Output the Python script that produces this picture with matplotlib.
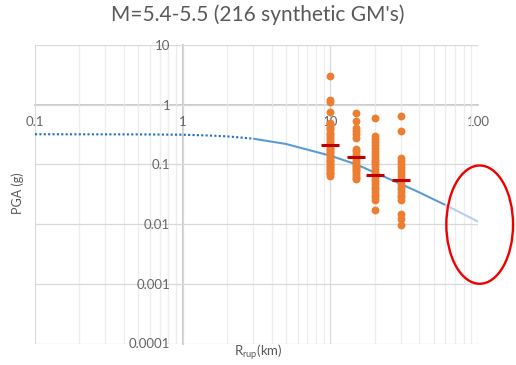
import numpy as np
import matplotlib
matplotlib.use("Agg")
import matplotlib.pyplot as plt
from matplotlib.patches import Ellipse
from matplotlib.ticker import FixedLocator, FuncFormatter
from matplotlib.transforms import ScaledTranslation

plt.rcParams["font.family"] = ["Lato", "DejaVu Sans"]
plt.rcParams["mathtext.fontset"] = "custom"
plt.rcParams["mathtext.rm"] = "Lato"
plt.rcParams["mathtext.it"] = "Lato"

# median prediction curve
dist_dot = [0.1, 0.5, 1.0, 1.5, 2.0, 3.0]
pga_dot = [0.32, 0.318, 0.314, 0.305, 0.295, 0.27]
dist_solid = [3.0, 5.0, 10.0, 15.0, 20.0, 30.0, 40.0, 50.0, 60.0]
pga_solid = [0.27, 0.22, 0.14, 0.10, 0.073, 0.047, 0.034, 0.026, 0.021]
dist_faint = [60.0, 100.0]
pga_faint = [0.021, 0.011]

# synthetic ground motions per distance
rup_dist = [10, 15, 20, 30]
pga_r10 = [3.0, 1.2, 1.1, 0.76, 0.50, 0.47, 0.43, 0.40, 0.37, 0.34, 0.32, 0.30,
           0.28, 0.26, 0.24, 0.22, 0.21, 0.19, 0.18, 0.17, 0.16, 0.15, 0.14,
           0.13, 0.12, 0.115, 0.11, 0.10, 0.095, 0.09, 0.085, 0.08, 0.076,
           0.072, 0.068, 0.065]
pga_r15 = [0.72, 0.54, 0.40, 0.36, 0.32, 0.28, 0.18, 0.165, 0.15, 0.14, 0.13,
           0.12, 0.11, 0.10, 0.095, 0.09, 0.085, 0.08, 0.075, 0.07, 0.065,
           0.06, 0.058]
pga_r20 = [0.59, 0.30, 0.27, 0.24, 0.21, 0.19, 0.17, 0.15, 0.135, 0.12, 0.11,
           0.10, 0.09, 0.08, 0.072, 0.065, 0.058, 0.052, 0.047, 0.042, 0.038,
           0.034, 0.031, 0.028, 0.025, 0.017]
pga_r30 = [0.65, 0.36, 0.13, 0.115, 0.10, 0.09, 0.08, 0.072, 0.065, 0.058,
           0.052, 0.047, 0.042, 0.038, 0.034, 0.031, 0.028, 0.025, 0.015,
           0.0123, 0.0098]
pga_mean = [0.21, 0.135, 0.066, 0.054]

x_ticks = [0.1, 1, 10, 100]
y_ticks = [0.0001, 0.001, 0.01, 0.1, 1, 10]

grey = "#595959"

fig = plt.figure(figsize=(5.16, 3.65), dpi=100)
ax = fig.add_axes([35 / 516, 1 - 343.5 / 365, 443 / 516, 298.5 / 365])
ax.set_xscale("log")
ax.set_yscale("log")
ax.set_xlim(0.1, 100)
ax.set_ylim(0.0001, 10)

ax.xaxis.set_major_locator(FixedLocator(x_ticks))
ax.yaxis.set_major_locator(FixedLocator(y_ticks))
ax.yaxis.set_minor_locator(FixedLocator([]))
fmt = FuncFormatter(lambda v, p: f"{v:g}")
ax.xaxis.set_major_formatter(fmt)
ax.yaxis.set_major_formatter(fmt)
ax.xaxis.set_minor_formatter(FuncFormatter(lambda v, p: ""))

ax.grid(True, which="major", color="#D9D9D9", lw=0.9)
ax.grid(True, which="minor", axis="x", color="#EDEDED", lw=0.9)
ax.set_axisbelow(True)

for side in ["top", "right"]:
    ax.spines[side].set_visible(False)
ax.spines["left"].set_position(("data", 1))
ax.spines["bottom"].set_position(("data", 1))
for side in ["left", "bottom"]:
    ax.spines[side].set_color("#BFBFBF")
    ax.spines[side].set_linewidth(1.2)
    ax.spines[side].set_zorder(0.5)

ax.tick_params(which="both", length=0, labelsize=9.5, labelcolor="#666666")
ax.tick_params(axis="x", pad=8)
ax.tick_params(axis="y", pad=9)

ax.plot(dist_dot, pga_dot, color="#1F6FC0", lw=1.5, ls=(0, (1, 1.1)))
ax.plot(dist_solid, pga_solid, color="#5B9BD5", lw=1.5, solid_capstyle="butt")
ax.plot(dist_faint, pga_faint, color="#B4D2EE", lw=1.5, solid_capstyle="butt")

for r, vals in zip(rup_dist, [pga_r10, pga_r15, pga_r20, pga_r30]):
    ax.scatter([r] * len(vals), vals, s=32, color="#ED7D31", lw=0, zorder=3)
ax.plot(rup_dist, pga_mean, ls="none", marker="_", ms=12.5, mew=2.2,
        color="#C00000", zorder=4)

# highlight ring around the end of the curve
ring_tr = fig.dpi_scale_trans + ScaledTranslation(dist_faint[-1], pga_faint[-1], ax.transData)
ax.add_patch(Ellipse((0.017, -0.03), 0.667, 1.183, transform=ring_tr,
                     fill=False, ec="#EE0000", lw=1.7, clip_on=False, zorder=5))

fig.text(0.5, 1 - 15 / 365, "M=5.4-5.5 (216 synthetic GM's)", ha="center",
         va="center", fontsize=15, color=grey)
fig.text(18 / 516, 1 - 193 / 365, "PGA (g)", rotation=90, ha="center",
         va="center", fontsize=9, color=grey)
fig.text(258 / 516, 1 - 352 / 365, r"R$_{\mathrm{rup}}$(km)", ha="center",
         va="center", fontsize=9.5, color=grey)

fig.savefig("out.png", dpi=100)
